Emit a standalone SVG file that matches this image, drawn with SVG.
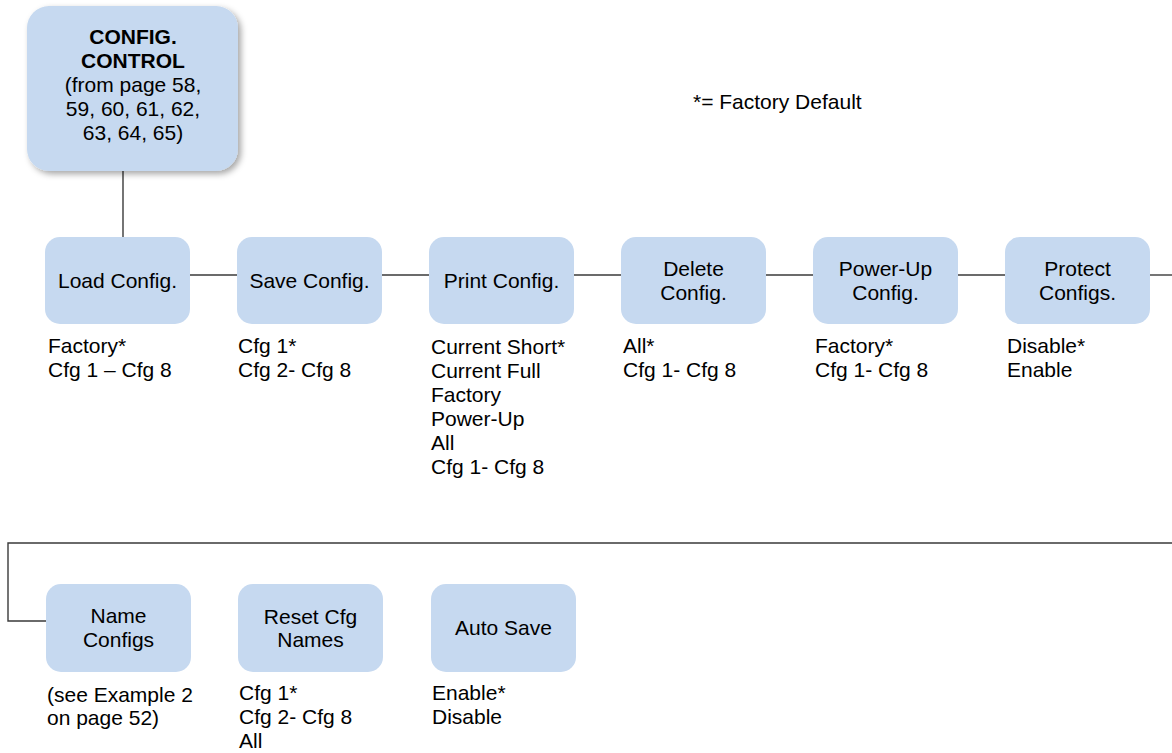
<svg xmlns="http://www.w3.org/2000/svg" width="1172" height="753" viewBox="0 0 1172 753">
<defs>
<filter id="sh" x="-20%" y="-20%" width="140%" height="140%">
<feDropShadow dx="3" dy="3" stdDeviation="3" flood-color="#000" flood-opacity="0.35"/>
</filter>
</defs>
<style>
.box{fill:#c6d9f0;}
.t{font-family:"Liberation Sans",Arial,sans-serif;font-size:21px;fill:#000;}
.c{text-anchor:middle;}
.b{font-weight:bold;}
.ln{stroke:#3a3a3a;stroke-width:1.4;fill:none;}
</style>
<rect width="1172" height="753" fill="#fff"/>
<g id="connectors">
<line class="ln" x1="123" y1="171" x2="123" y2="237"/>
<line class="ln" x1="190" y1="275" x2="237" y2="275"/>
<line class="ln" x1="382" y1="275" x2="429" y2="275"/>
<line class="ln" x1="574" y1="275" x2="621" y2="275"/>
<line class="ln" x1="766" y1="275" x2="813" y2="275"/>
<line class="ln" x1="958" y1="275" x2="1005" y2="275"/>
<line class="ln" x1="1150" y1="275" x2="1172" y2="275"/>
<polyline class="ln" points="1172,543 8,543 8,621 46,621"/>
</g>
<g id="note"><text class="t" x="693" y="109">*= Factory Default</text></g>
<g id="config-control">
<rect class="box" x="27" y="6" width="211" height="165" rx="22" filter="url(#sh)"/>
<text class="t c b" x="133" y="44">CONFIG.</text>
<text class="t c b" x="133" y="68">CONTROL</text>
<text class="t c" x="133" y="92">(from page 58,</text>
<text class="t c" x="133" y="116">59, 60, 61, 62,</text>
<text class="t c" x="133" y="140">63, 64, 65)</text>
</g>
<g id="load-config">
<rect class="box" x="45" y="237" width="145" height="87" rx="15"/>
<text class="t c" x="117.5" y="288">Load Config.</text>
<text class="t" x="48" y="353">Factory*</text>
<text class="t" x="48" y="377">Cfg 1 – Cfg 8</text>
</g>
<g id="save-config">
<rect class="box" x="237" y="237" width="145" height="87" rx="15"/>
<text class="t c" x="309.5" y="288">Save Config.</text>
<text class="t" x="238" y="353">Cfg 1*</text>
<text class="t" x="238" y="377">Cfg 2- Cfg 8</text>
</g>
<g id="print-config">
<rect class="box" x="429" y="237" width="145" height="87" rx="15"/>
<text class="t c" x="501.5" y="288">Print Config.</text>
<text class="t" x="431" y="354">Current Short*</text>
<text class="t" x="431" y="378">Current Full</text>
<text class="t" x="431" y="402">Factory</text>
<text class="t" x="431" y="426">Power-Up</text>
<text class="t" x="431" y="450">All</text>
<text class="t" x="431" y="474">Cfg 1- Cfg 8</text>
</g>
<g id="delete-config">
<rect class="box" x="621" y="237" width="145" height="87" rx="15"/>
<text class="t c" x="693.5" y="276">Delete</text>
<text class="t c" x="693.5" y="300">Config.</text>
<text class="t" x="623" y="353">All*</text>
<text class="t" x="623" y="377">Cfg 1- Cfg 8</text>
</g>
<g id="power-up-config">
<rect class="box" x="813" y="237" width="145" height="87" rx="15"/>
<text class="t c" x="885.5" y="276">Power-Up</text>
<text class="t c" x="885.5" y="300">Config.</text>
<text class="t" x="815" y="353">Factory*</text>
<text class="t" x="815" y="377">Cfg 1- Cfg 8</text>
</g>
<g id="protect-configs">
<rect class="box" x="1005" y="237" width="145" height="87" rx="15"/>
<text class="t c" x="1077.5" y="276">Protect</text>
<text class="t c" x="1077.5" y="300">Configs.</text>
<text class="t" x="1007" y="353">Disable*</text>
<text class="t" x="1007" y="377">Enable</text>
</g>
<g id="name-configs">
<rect class="box" x="46" y="584" width="145" height="88" rx="15"/>
<text class="t c" x="118.5" y="623">Name</text>
<text class="t c" x="118.5" y="647">Configs</text>
<text class="t" x="47" y="702">(see Example 2</text>
<text class="t" x="47" y="725">on page 52)</text>
</g>
<g id="reset-cfg-names">
<rect class="box" x="238" y="584" width="145" height="88" rx="15"/>
<text class="t c" x="310.5" y="624">Reset Cfg</text>
<text class="t c" x="310.5" y="647">Names</text>
<text class="t" x="239" y="700">Cfg 1*</text>
<text class="t" x="239" y="724">Cfg 2- Cfg 8</text>
<text class="t" x="239" y="748">All</text>
</g>
<g id="auto-save">
<rect class="box" x="431" y="584" width="145" height="88" rx="15"/>
<text class="t c" x="503.5" y="635">Auto Save</text>
<text class="t" x="432" y="700">Enable*</text>
<text class="t" x="432" y="724">Disable</text>
</g>
</svg>
